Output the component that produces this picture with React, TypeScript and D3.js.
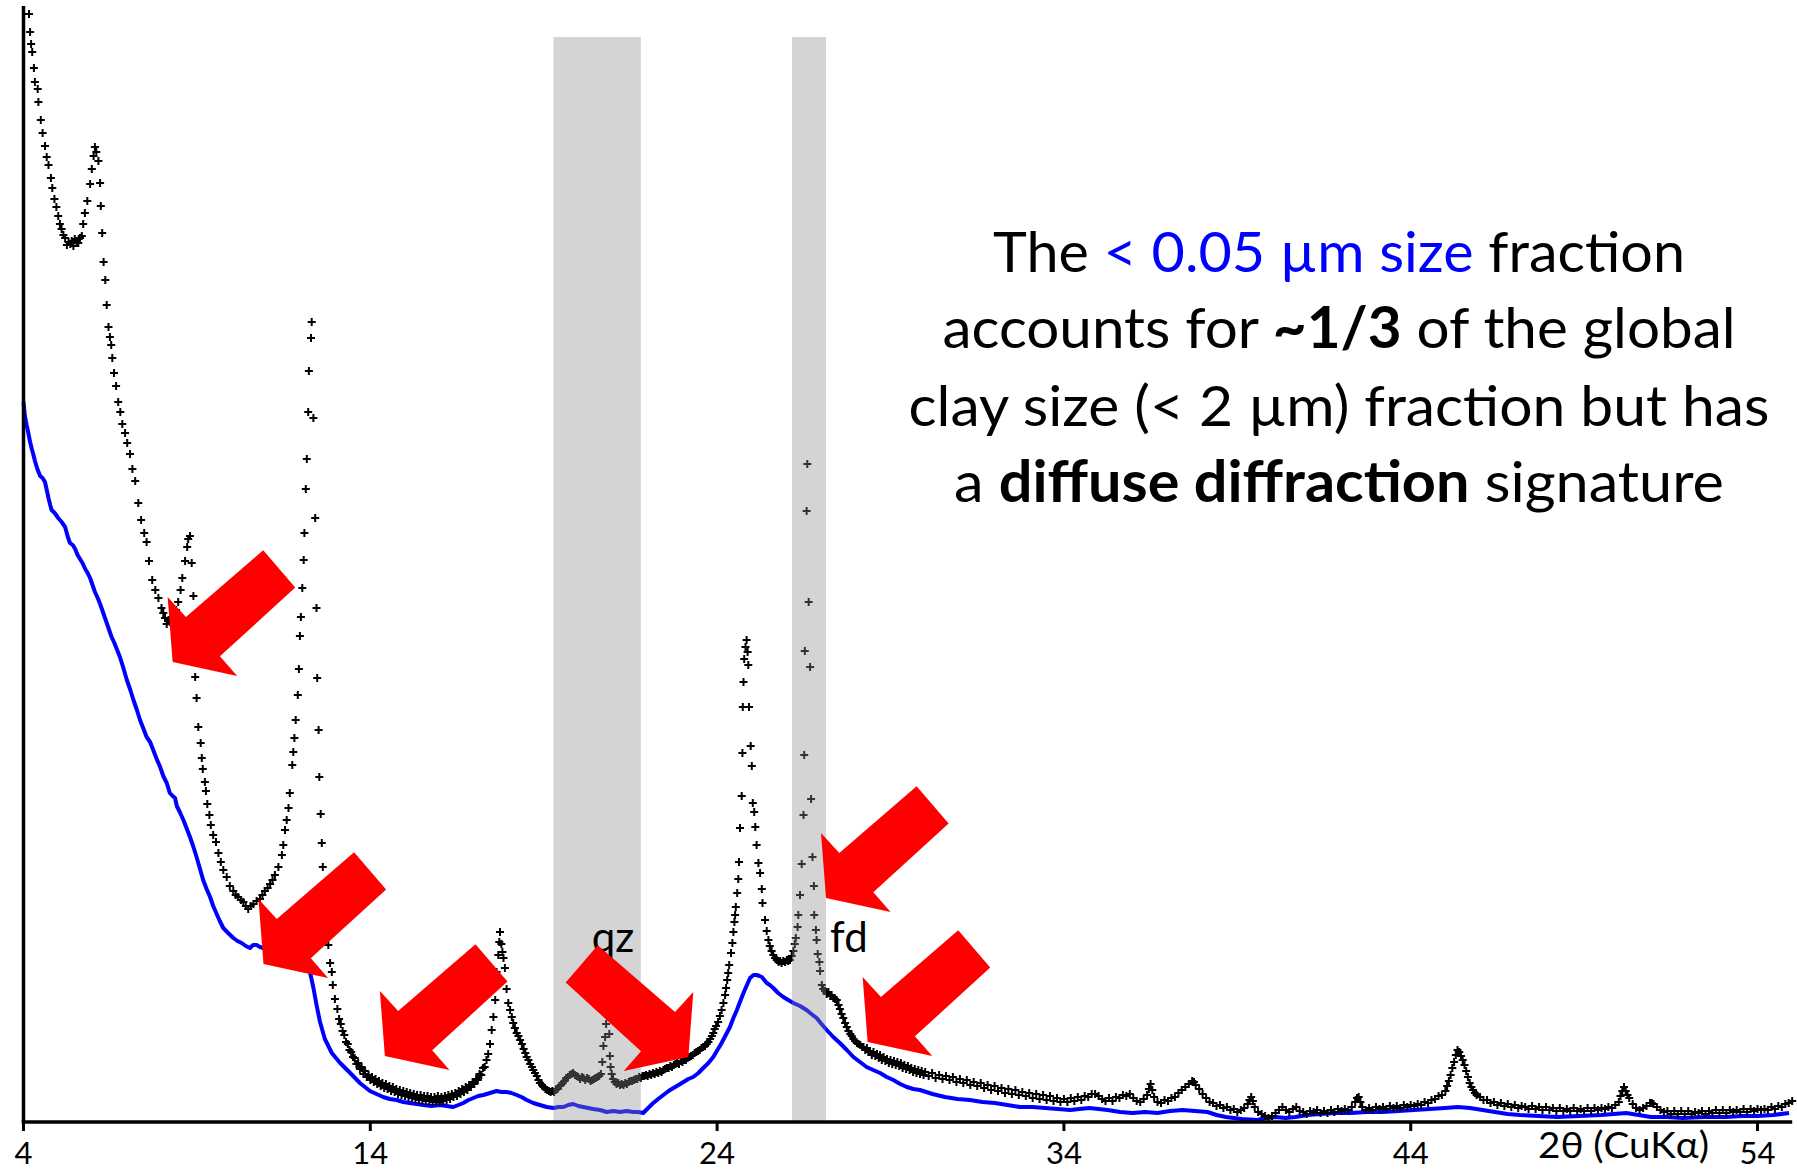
import React from 'react';
import * as d3 from 'd3';

const WIDTH = 1797;
const HEIGHT = 1173;

// < 2 µm clay fraction: [2θ (deg), intensity (a.u.)]
const clayScan: [number, number][] = [
  [4.16,1108],[4.19,1090],[4.22,1078],[4.25,1070],[4.30,1054],[4.33,1040],[4.41,1033],[4.43,1020],[4.50,1002],[4.55,989],
  [4.62,976],[4.67,965],[4.72,957],[4.79,944],[4.83,934],[4.89,923],[4.95,915],[5.00,906],[5.05,898],[5.10,893],
  [5.15,887],[5.20,884],[5.25,877],[5.30,880],[5.35,878],[5.39,881],[5.44,876],[5.48,883],[5.53,881],[5.58,879],
  [5.63,884],[5.68,886],[5.72,898],[5.77,909],[5.84,921],[5.92,938],[5.97,953],[6.02,966],[6.06,975],[6.10,970],
  [6.16,961],[6.21,939],[6.23,916],[6.27,889],[6.31,860],[6.36,842],[6.40,817],[6.45,795],[6.49,785],[6.53,777],
  [6.56,764],[6.61,749],[6.67,736],[6.73,720],[6.79,710],[6.85,698],[6.93,689],[6.99,679],[7.07,668],[7.14,653],
  [7.22,641],[7.31,619],[7.39,602],[7.48,589],[7.55,580],[7.62,561],[7.71,542],[7.80,532],[7.89,524],[7.98,514],
  [8.03,509],[8.08,504],[8.13,498],[8.18,502],[8.22,500],[8.28,505],[8.34,507],[8.40,512],[8.46,520],[8.53,532],
  [8.58,544],[8.66,561],[8.72,575],[8.75,583],[8.80,586],[8.85,559],[8.90,526],[8.95,445],[8.99,424],[9.04,395],
  [9.11,379],[9.14,364],[9.17,353],[9.23,340],[9.26,331],[9.30,318],[9.36,307],[9.40,297],[9.47,287],[9.55,280],
  [9.62,269],[9.69,260],[9.76,252],[9.86,245],[9.95,236],[10.05,231],[10.12,227],[10.19,225],[10.27,222],[10.34,220],
  [10.41,216],[10.48,213],[10.55,216],[10.63,218],[10.72,221],[10.82,223],[10.89,227],[10.96,231],[11.04,234],[11.11,238],
  [11.18,242],[11.25,247],[11.35,255],[11.45,267],[11.49,277],[11.54,292],[11.59,302],[11.64,314],[11.68,329],[11.75,357],
  [11.78,370],[11.81,384],[11.85,402],[11.91,427],[11.94,453],[11.97,486],[12.00,505],[12.04,534],[12.08,562],[12.10,589],
  [12.14,633],[12.17,663],[12.21,710],[12.23,751],[12.29,784],[12.31,800],[12.36,704],[12.41,604],[12.45,514],[12.47,444],
  [12.51,392],[12.53,345],[12.57,308],[12.60,279],[12.63,255],[12.68,232],[12.74,202],[12.79,177],[12.84,159],[12.89,150],
  [12.92,137],[12.98,123],[13.05,113],[13.10,103],[13.15,98],[13.20,91],[13.25,87],[13.30,80],[13.35,78],[13.40,72],
  [13.45,70],[13.50,65],[13.55,64],[13.60,58],[13.65,59],[13.70,53],[13.75,55],[13.80,48],[13.85,51],[13.90,45],
  [13.95,47],[14.00,42],[14.05,45],[14.10,40],[14.15,43],[14.20,38],[14.25,41],[14.30,36],[14.35,39],[14.40,34],
  [14.45,38],[14.50,33],[14.55,36],[14.60,31],[14.65,35],[14.70,30],[14.75,33],[14.80,28],[14.85,32],[14.90,27],
  [14.95,31],[15.00,26],[15.05,30],[15.10,25],[15.15,29],[15.20,24],[15.25,28],[15.30,23],[15.35,27],[15.40,22],
  [15.45,27],[15.50,22],[15.55,26],[15.60,21],[15.65,26],[15.70,21],[15.75,25],[15.80,20],[15.85,25],[15.90,21],
  [15.95,26],[16.00,20],[16.05,25],[16.10,21],[16.15,26],[16.20,22],[16.25,27],[16.30,23],[16.35,28],[16.40,25],
  [16.45,29],[16.50,26],[16.55,31],[16.60,28],[16.65,33],[16.70,30],[16.75,35],[16.80,32],[16.85,37],[16.90,35],
  [16.95,40],[17.00,38],[17.05,43],[17.10,42],[17.15,48],[17.20,47],[17.25,54],[17.30,55],[17.35,62],[17.40,68],
  [17.45,78],[17.50,92],[17.55,105],[17.60,122],[17.64,150],[17.69,167],[17.72,180],[17.74,190],[17.78,178],[17.81,170],
  [17.84,164],[17.88,154],[17.93,133],[17.98,119],[18.03,112],[18.08,105],[18.12,99],[18.17,94],[18.22,89],[18.27,86],
  [18.32,82],[18.37,78],[18.42,73],[18.47,69],[18.51,65],[18.56,62],[18.61,58],[18.66,55],[18.70,52],[18.75,49],
  [18.80,46],[18.85,42],[18.89,39],[18.95,37],[19.00,35],[19.05,33],[19.10,32],[19.15,31],[19.20,30],[19.25,31],
  [19.30,30],[19.35,32],[19.40,33],[19.45,36],[19.50,37],[19.55,39],[19.60,41],[19.65,44],[19.70,45],[19.75,47],
  [19.80,48],[19.85,49],[19.90,47],[19.95,46],[20.00,45],[20.05,43],[20.10,45],[20.15,44],[20.20,42],[20.25,44],
  [20.30,43],[20.35,41],[20.40,42],[20.45,43],[20.50,44],[20.55,45],[20.60,46],[20.65,48],[20.69,60],[20.72,76],
  [20.77,85],[20.80,98],[20.83,112],[20.85,125],[20.87,105],[20.89,88],[20.91,66],[20.93,55],[20.96,48],[21.00,43],
  [21.05,40],[21.10,38],[21.15,39],[21.20,37],[21.25,38],[21.30,37],[21.35,39],[21.40,38],[21.45,40],[21.50,41],
  [21.55,41],[21.60,42],[21.65,43],[21.70,43],[21.75,45],[21.80,44],[21.85,46],[21.90,46],[21.95,47],[22.00,46],
  [22.05,48],[22.10,47],[22.15,49],[22.20,48],[22.25,50],[22.30,49],[22.35,51],[22.40,50],[22.45,52],[22.50,53],
  [22.55,54],[22.60,54],[22.65,56],[22.70,55],[22.75,57],[22.80,58],[22.85,59],[22.90,58],[22.95,61],[23.00,60],
  [23.05,62],[23.10,62],[23.15,64],[23.20,65],[23.25,66],[23.30,67],[23.35,69],[23.40,70],[23.45,71],[23.50,72],
  [23.55,74],[23.60,75],[23.65,76],[23.70,78],[23.75,80],[23.80,83],[23.85,86],[23.89,89],[23.93,93],[23.97,96],
  [24.03,100],[24.08,106],[24.13,112],[24.18,119],[24.23,127],[24.26,134],[24.29,142],[24.32,149],[24.35,157],[24.40,169],
  [24.44,179],[24.47,190],[24.50,200],[24.52,207],[24.54,215],[24.58,229],[24.61,243],[24.63,260],[24.66,294],[24.71,326],
  [24.73,369],[24.74,415],[24.76,440],[24.78,463],[24.82,475],[24.85,482],[24.88,470],[24.90,457],[24.92,415],[24.97,376],
  [25.00,356],[25.03,319],[25.07,310],[25.10,295],[25.14,277],[25.19,259],[25.24,249],[25.29,233],[25.31,219],[25.38,202],
  [25.43,191],[25.48,182],[25.52,176],[25.57,171],[25.62,167],[25.67,164],[25.72,162],[25.77,160],[25.82,161],[25.86,159],
  [25.91,161],[25.96,160],[26.01,162],[26.05,161],[26.10,162],[26.15,166],[26.20,171],[26.24,178],[26.27,184],[26.32,195],
  [26.34,207],[26.39,227],[26.44,258],[26.49,307],[26.51,367],[26.53,471],[26.58,611],[26.60,658],[26.64,520],[26.68,455],
  [26.71,323],[26.75,265],[26.79,236],[26.80,207],[26.85,192],[26.87,182],[26.90,168],[26.95,160],[26.97,151],[27.02,137],
  [27.06,133],[27.11,131],[27.16,128],[27.21,130],[27.26,126],[27.30,127],[27.35,124],[27.40,123],[27.45,122],[27.50,117],
  [27.54,113],[27.59,108],[27.64,104],[27.69,99],[27.74,95],[27.79,91],[27.84,88],[27.88,86],[27.93,83],[27.98,81],
  [28.03,79],[28.08,78],[28.13,77],[28.18,75],[28.22,75],[28.27,72],[28.32,74],[28.36,70],[28.41,71],[28.46,67],
  [28.51,70],[28.56,66],[28.61,68],[28.66,64],[28.70,67],[28.75,62],[28.80,65],[28.85,61],[28.90,63],[28.95,59],
  [29.00,62],[29.05,58],[29.10,61],[29.15,57],[29.20,60],[29.25,56],[29.30,59],[29.35,54],[29.40,57],[29.45,53],
  [29.50,56],[29.55,52],[29.60,54],[29.65,50],[29.70,53],[29.75,49],[29.80,52],[29.85,48],[29.90,51],[29.95,47],
  [30.00,50],[30.10,46],[30.20,49],[30.30,44],[30.40,47],[30.50,43],[30.60,46],[30.70,42],[30.80,45],[30.90,40],
  [31.00,43],[31.10,39],[31.20,42],[31.30,37],[31.40,40],[31.50,36],[31.60,39],[31.70,34],[31.80,37],[31.90,32],
  [32.00,36],[32.10,31],[32.20,34],[32.30,29],[32.40,33],[32.50,28],[32.60,32],[32.70,27],[32.80,30],[32.90,26],
  [33.00,29],[33.10,24],[33.20,28],[33.30,23],[33.40,27],[33.50,22],[33.60,26],[33.70,21],[33.80,24],[33.90,20],
  [34.00,23],[34.10,20],[34.20,24],[34.30,21],[34.40,25],[34.50,22],[34.60,26],[34.70,25],[34.80,28],[34.90,28],
  [35.00,26],[35.10,23],[35.20,21],[35.30,24],[35.40,21],[35.50,25],[35.60,24],[35.70,27],[35.80,26],[35.90,28],
  [36.00,24],[36.10,21],[36.20,20],[36.30,23],[36.40,27],[36.45,33],[36.50,38],[36.55,32],[36.60,25],[36.70,20],
  [36.80,19],[36.90,22],[37.00,21],[37.10,24],[37.20,25],[37.30,29],[37.40,32],[37.50,35],[37.60,38],[37.70,41],
  [37.75,40],[37.80,37],[37.90,33],[38.00,28],[38.10,24],[38.20,20],[38.30,19],[38.40,16],[38.50,17],[38.60,14],
  [38.70,15],[38.80,12],[38.90,13],[39.00,10],[39.10,12],[39.20,14],[39.30,18],[39.35,22],[39.40,25],[39.45,21],
  [39.50,15],[39.60,10],[39.70,8],[39.80,6],[39.90,4],[40.00,6],[40.10,9],[40.20,12],[40.30,15],[40.40,12],
  [40.50,10],[40.60,13],[40.70,15],[40.80,11],[40.90,10],[41.00,8],[41.10,11],[41.20,10],[41.30,12],[41.40,9],
  [41.50,11],[41.60,9],[41.70,12],[41.80,10],[41.90,13],[42.00,11],[42.10,13],[42.20,12],[42.30,15],[42.40,20],
  [42.45,24],[42.50,25],[42.55,20],[42.60,15],[42.70,12],[42.80,14],[42.90,12],[43.00,15],[43.10,13],[43.20,15],
  [43.30,13],[43.40,16],[43.50,14],[43.60,16],[43.70,14],[43.80,17],[43.90,15],[44.00,17],[44.10,16],[44.20,18],
  [44.30,17],[44.40,20],[44.50,19],[44.60,22],[44.70,23],[44.80,26],[44.90,27],[45.00,31],[45.05,36],[45.10,41],
  [45.15,47],[45.20,54],[45.25,60],[45.30,67],[45.35,72],[45.40,70],[45.45,66],[45.50,62],[45.55,57],[45.60,51],
  [45.65,45],[45.70,39],[45.75,35],[45.80,32],[45.85,29],[45.90,27],[46.00,25],[46.10,22],[46.20,22],[46.30,19],
  [46.40,20],[46.50,17],[46.60,19],[46.70,16],[46.80,18],[46.90,15],[47.00,17],[47.10,14],[47.20,16],[47.30,15],
  [47.40,13],[47.50,16],[47.60,13],[47.70,15],[47.80,12],[47.90,15],[48.00,12],[48.10,14],[48.20,11],[48.30,14],
  [48.40,11],[48.50,13],[48.60,11],[48.70,14],[48.80,11],[48.90,13],[49.00,11],[49.10,14],[49.20,11],[49.30,14],
  [49.40,12],[49.50,14],[49.60,13],[49.70,15],[49.80,14],[49.90,17],[50.00,20],[50.05,26],[50.10,31],[50.15,35],
  [50.20,31],[50.25,27],[50.30,24],[50.40,18],[50.50,14],[50.60,12],[50.70,14],[50.80,16],[50.90,19],[50.95,19],
  [51.00,18],[51.10,15],[51.20,12],[51.30,10],[51.40,11],[51.50,8],[51.60,11],[51.70,8],[51.80,11],[51.90,8],
  [52.00,11],[52.10,8],[52.20,10],[52.30,9],[52.40,11],[52.50,8],[52.60,11],[52.70,9],[52.80,12],[52.90,9],
  [53.00,12],[53.10,9],[53.20,12],[53.30,10],[53.40,12],[53.50,10],[53.60,13],[53.70,10],[53.80,13],[53.90,11],
  [54.00,13],[54.10,12],[54.20,13],[54.30,12],[54.40,15],[54.50,13],[54.60,16],[54.70,15],[54.80,18],[54.90,19],
  [55.00,21],
];

// < 0.05 µm fraction: [2θ (deg), intensity (a.u.)]
const fineScan: [number, number][] = [
  [4.00,720],[4.04,706],[4.09,697],[4.14,689],[4.19,680],[4.24,673],[4.28,668],[4.33,661],[4.40,653],[4.48,646],
  [4.55,644],[4.62,640],[4.67,632],[4.72,624],[4.77,617],[4.81,612],[4.90,609],[5.00,604],[5.10,600],[5.20,595],
  [5.27,586],[5.34,579],[5.42,577],[5.49,573],[5.56,567],[5.63,563],[5.70,559],[5.78,553],[5.85,549],[5.92,544],
  [6.00,536],[6.06,530],[6.14,524],[6.21,518],[6.28,511],[6.35,504],[6.45,494],[6.54,485],[6.62,479],[6.70,472],
  [6.78,465],[6.88,454],[6.98,442],[7.08,432],[7.17,422],[7.27,412],[7.36,402],[7.45,394],[7.55,385],[7.65,380],
  [7.74,372],[7.84,363],[7.94,355],[8.03,346],[8.13,339],[8.22,329],[8.30,326],[8.37,324],[8.42,316],[8.52,309],
  [8.61,302],[8.70,294],[8.80,285],[8.90,275],[8.99,265],[9.09,253],[9.18,242],[9.28,233],[9.38,225],[9.47,216],
  [9.57,208],[9.66,201],[9.76,194],[9.90,189],[10.05,184],[10.17,181],[10.29,179],[10.41,176],[10.53,174],[10.62,177],
  [10.72,177],[10.82,175],[10.91,174],[11.11,172],[11.40,170],[11.68,168],[11.97,162],[12.12,157],[12.26,150],[12.36,134],
  [12.45,117],[12.55,100],[12.69,83],[12.89,69],[13.13,59],[13.42,49],[13.70,39],[13.99,31],[14.18,28],[14.37,25],
  [14.56,23],[14.76,22],[14.95,20],[15.14,19],[15.34,18],[15.53,17],[15.77,16],[16.01,17],[16.20,16],[16.39,15],
  [16.54,17],[16.68,19],[16.83,22],[16.97,24],[17.11,26],[17.26,27],[17.45,29],[17.64,31],[17.78,30],[17.93,30],
  [18.07,29],[18.22,27],[18.36,25],[18.51,22],[18.70,19],[18.89,17],[19.09,15],[19.28,14],[19.43,15],[19.57,15],
  [19.71,17],[19.85,18],[20.00,16],[20.14,15],[20.28,14],[20.43,13],[20.62,12],[20.82,10],[21.01,11],[21.20,10],
  [21.39,11],[21.58,10],[21.73,10],[21.87,9],[22.01,14],[22.16,19],[22.30,23],[22.45,27],[22.60,31],[22.74,34],
  [22.89,37],[23.03,40],[23.17,43],[23.31,45],[23.46,49],[23.60,54],[23.75,59],[23.89,65],[24.01,72],[24.13,79],
  [24.25,87],[24.37,95],[24.47,104],[24.57,112],[24.67,121],[24.76,129],[24.86,137],[24.95,144],[25.05,147],[25.14,147],
  [25.22,146],[25.29,145],[25.36,142],[25.43,139],[25.52,137],[25.62,134],[25.76,129],[25.91,125],[26.05,122],[26.20,119],
  [26.39,116],[26.58,112],[26.72,108],[26.87,104],[27.01,98],[27.16,92],[27.35,85],[27.54,79],[27.74,72],[27.93,65],
  [28.12,60],[28.31,55],[28.50,52],[28.70,49],[28.89,45],[29.08,42],[29.28,38],[29.47,35],[29.66,33],[29.85,32],
  [30.21,28],[30.57,25],[30.93,23],[31.29,22],[31.65,20],[32.01,19],[32.37,17],[32.73,15],[33.10,15],[33.46,14],
  [33.82,13],[34.18,12],[34.45,13],[34.73,14],[35.00,13],[35.26,12],[35.62,10],[35.98,9],[36.34,10],[36.70,9],
  [37.06,11],[37.42,12],[37.78,11],[38.14,10],[38.40,7],[38.67,5],[39.13,3],[39.58,2],[39.85,4],[40.11,5],
  [40.39,4],[40.67,5],[41.03,7],[41.39,8],[41.84,9],[42.28,9],[42.73,10],[43.19,10],[43.65,11],[44.10,12],
  [44.55,13],[44.99,14],[45.35,15],[45.71,14],[46.07,12],[46.43,10],[46.79,8],[47.15,7],[47.69,6],[48.23,5],
  [48.86,6],[49.49,7],[49.85,8],[50.21,9],[50.57,7],[50.93,5],[51.38,5],[51.84,4],[52.47,5],[53.09,5],
  [53.55,6],[54.00,6],[54.45,7],[54.91,9],
];

const xTicks = [4, 14, 24, 34, 44, 54];
const axisTitle = '2θ (CuKα)';

// shaded reflection windows (2θ) with their mineral labels
const mineralBands = [
  { label: 'qz', from: 19.28, to: 21.8, labelAt: 21.0 },
  { label: 'fd', from: 26.16, to: 27.14, labelAt: 27.8 },
];
const bandTop = 1085;
const labelLevel = 170;

// red block arrows: tip position in data units, mirrored = points down-right
const arrowTips: { theta: number; counts: number; mirrored: boolean }[] = [
  { theta: 8.3, counts: 460, mirrored: false },
  { theta: 10.92, counts: 158, mirrored: false },
  { theta: 14.42, counts: 66, mirrored: false },
  { theta: 23.17, counts: 65, mirrored: true },
  { theta: 27.14, counts: 224, mirrored: false },
  { theta: 28.34, counts: 80, mirrored: false },
];

type Span = { text: string; color?: string; bold?: boolean };
const noteLines: Span[][] = [
  [{ text: 'The ' }, { text: '< 0.05 µm size', color: '#0000ff' }, { text: ' fraction' }],
  [{ text: 'accounts for ' }, { text: '~1/3', bold: true }, { text: ' of the global' }],
  [{ text: 'clay size (< 2 µm) fraction but has' }],
  [{ text: 'a ' }, { text: 'diffuse diffraction', bold: true }, { text: ' signature' }],
];
const noteWidths = [692, 793, 861, 770];

// arrow outline relative to its tip (px)
const arrowShape = [
  [0, 0], [-5, -65], [13.3, -45], [90.6, -111.7], [122.6, -74.4], [47.3, -5.7], [64.6, 14],
];

const FONT = "Lato, 'Open Sans', sans-serif";

const App: React.FC = () => {
  const x = d3.scaleLinear().domain([4, 55]).range([23.5, 1792.2]);
  const y = d3.scaleLinear().domain([0, 1116]).range([1122, 6]);

  const fineLine = d3
    .line<[number, number]>()
    .x((d) => x(d[0]))
    .y((d) => y(d[1]));

  // all "+" markers in one path
  const arm = 4;
  const crosses = clayScan
    .map(([t, c]) => {
      const px = x(t);
      const py = y(c);
      return `M${(px - arm).toFixed(1)},${py.toFixed(1)}h${2 * arm}M${px.toFixed(1)},${(py - arm).toFixed(1)}v${2 * arm}`;
    })
    .join('');

  const arrowPath = (tip: { theta: number; counts: number; mirrored: boolean }) => {
    const tx = x(tip.theta);
    const ty = y(tip.counts);
    const s = tip.mirrored ? -1 : 1;
    return 'M' + arrowShape.map(([dx, dy]) => `${tx + s * dx},${ty + dy}`).join('L') + 'Z';
  };

  const noteX = 1339;
  const noteBaselines = [272, 348, 426, 502];

  return (
    <svg
      width={WIDTH}
      height={HEIGHT}
      style={{ position: 'absolute', left: 0, top: 0, background: '#fff' }}
    >
      <path
        d={fineLine(fineScan) || ''}
        fill="none"
        stroke="#0000ff"
        strokeWidth={4}
        strokeLinejoin="round"
      />
      <path d={crosses} fill="none" stroke="#000" strokeWidth={2} />

      {mineralBands.map((b) => (
        <rect
          key={b.label}
          x={x(b.from)}
          y={y(bandTop)}
          width={x(b.to) - x(b.from)}
          height={y(0) - y(bandTop)}
          fill="#898989"
          fillOpacity={0.37}
        />
      ))}

      {/* axes */}
      <line x1={x(4)} x2={x(4)} y1={6} y2={y(0)} stroke="#000" strokeWidth={3.5} />
      <line x1={x(4) - 1.8} x2={x(55)} y1={y(0)} y2={y(0)} stroke="#000" strokeWidth={3.5} />
      {xTicks.map((t) => (
        <g key={t}>
          <line x1={x(t)} x2={x(t)} y1={y(0)} y2={y(0) + 9} stroke="#000" strokeWidth={3} />
          <text
            x={x(t)}
            y={1164}
            textAnchor="middle"
            fontFamily={FONT}
            fontSize={31}
            fill="#000"
          >
            {t}
          </text>
        </g>
      ))}
      <text
        x={1538}
        y={1158}
        fontFamily={FONT}
        fontSize={37}
        fill="#000"
        textLength={171}
        lengthAdjust="spacingAndGlyphs"
      >
        {axisTitle}
      </text>

      {mineralBands.map((b) => (
        <text
          key={b.label}
          x={x(b.labelAt)}
          y={y(labelLevel)}
          textAnchor="middle"
          fontFamily={FONT}
          fontSize={42}
          fill="#000"
        >
          {b.label}
        </text>
      ))}

      {arrowTips.map((a, i) => (
        <path key={i} d={arrowPath(a)} fill="#ff0000" />
      ))}

      {noteLines.map((line, i) => (
        <text
          key={i}
          x={noteX}
          y={noteBaselines[i]}
          textAnchor="middle"
          fontFamily={FONT}
          fontSize={57}
          fill="#000"
          textLength={noteWidths[i]}
          lengthAdjust="spacingAndGlyphs"
          style={{ whiteSpace: 'pre' }}
        >
          {line.map((s, j) => (
            <tspan key={j} fill={s.color || '#000'} fontWeight={s.bold ? 700 : 400}>
              {s.text}
            </tspan>
          ))}
        </text>
      ))}
    </svg>
  );
};

export default App;
